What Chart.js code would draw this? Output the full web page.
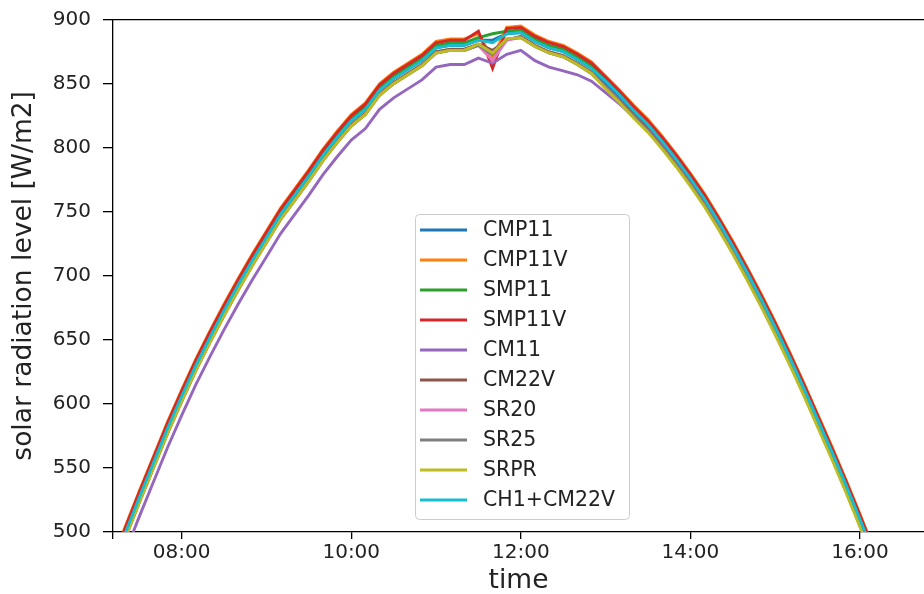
<!DOCTYPE html>
<html>
<head>
<meta charset="utf-8">
<script src="https://cdn.jsdelivr.net/npm/chart.js@4.4.1/dist/chart.umd.min.js"></script>
<style>
  html, body { margin: 0; padding: 0; background: #fff; }
  #wrap { width: 924px; height: 594px; }
</style>
</head>
<body>
<div id="wrap"><canvas id="radChart" width="924" height="594"></canvas></div>
<script>
// measurement times, 10 minute steps
const timeLabels = [
  '07:10','07:20','07:30','07:40','07:50',
  '08:00','08:10','08:20','08:30','08:40','08:50',
  '09:00','09:10','09:20','09:30','09:40','09:50',
  '10:00','10:10','10:20','10:30','10:40','10:50',
  '11:00','11:10','11:20','11:30','11:40','11:50',
  '12:00','12:10','12:20','12:30','12:40','12:50',
  '13:00','13:10','13:20','13:30','13:40','13:50',
  '14:00','14:10','14:20','14:30','14:40','14:50',
  '15:00','15:10','15:20','15:30','15:40','15:50',
  '16:00','16:10','16:20'
];
const tickTimes = ['08:00', '10:00', '12:00', '14:00', '16:00'];
const yTicks = [500, 550, 600, 650, 700, 750, 800, 850, 900];

// solar radiation per sensor [W/m2]
const cmp11 = [471,499,527,554,581, 606,630,652,673,693,712, 730,748,763,778,794,808, 821,830,845,854,861,868,
  878,880,880,884,884,889, 890,883,878,875,869,862, 851,840,828,817,804,790, 775,759,741,722,702,681,
  659,636,612,587,562,536, 509,481,452];
const cmp11v = [476,504,532,559,586, 611,635,657,678,698,717, 735,753,768,783,799,813, 826,835,850,859,866,873,
  883,885,885,889,870,894, 895,888,883,880,874,867, 856,845,833,822,809,795, 780,764,746,727,707,686,
  664,641,617,592,567,541, 514,486,457];
const smp11 = [473,501,529,556,583, 608,632,654,675,695,714, 732,750,765,780,796,810, 823,832,847,856,863,870,
  880,882,882,886,889,891, 892,885,880,877,871,864, 853,842,830,819,806,792, 777,761,743,724,704,683,
  661,638,614,589,564,538, 511,483,454];
const smp11v = [475,503,531,558,585, 610,634,656,677,697,716, 734,752,767,782,798,812, 825,834,849,858,865,872,
  882,884,884,891,862,893, 894,887,882,879,873,866, 855,844,832,821,808,794, 779,763,745,726,706,685,
  663,640,616,591,566,540, 513,485,456];
const cm11 = [456,484,512,539,566, 591,615,637,658,678,697, 715,733,748,763,779,793, 806,815,830,839,846,853,
  863,865,865,870,866,873, 876,868,863,860,857,852, 843,834,824,815,803,790, 775,759,741,722,702,681,
  659,636,612,587,562,536, 509,481,452];
const cm22v = [468,496,524,551,578, 603,627,649,670,690,709, 727,745,760,775,791,805, 818,827,842,851,858,865,
  875,877,877,881,876,884, 887,880,875,872,866,859, 848,837,825,814,801,787, 772,756,738,719,699,678,
  656,633,609,584,559,533, 506,478,449];
const sr20 = [467,495,523,550,577, 602,626,648,669,689,708, 726,744,759,774,790,804, 817,826,841,850,857,864,
  874,876,876,880,868,884, 886,879,874,871,865,858, 847,836,824,813,800,786, 771,755,737,718,698,677,
  655,632,608,583,558,532, 505,477,448];
const sr25 = [467,495,523,550,577, 602,626,648,669,689,708, 726,744,759,774,790,804, 817,826,841,850,857,864,
  874,876,876,880,873,885, 886,879,874,871,865,858, 847,836,824,813,800,786, 771,755,737,718,698,677,
  655,632,608,583,558,532, 505,477,448];
const srpr = [467,495,523,550,577, 602,626,648,669,689,708, 726,744,759,774,790,804, 817,826,841,850,857,864,
  874,876,876,881,874,885, 886,879,874,871,865,858, 846,835,823,812,799,785, 770,754,736,717,697,676,
  654,631,607,582,557,531, 504,476,447];
const ch1cm22v = [471,499,527,554,581, 606,630,652,673,693,712, 730,748,763,778,794,808, 821,830,845,854,861,868,
  878,880,880,884,882,889, 890,883,878,875,869,862, 852,841,829,818,805,791, 776,760,742,723,703,682,
  660,637,613,588,563,537, 510,482,453];

const seriesNames = ['CMP11', 'CMP11V', 'SMP11', 'SMP11V', 'CM11', 'CM22V', 'SR20', 'SR25', 'SRPR', 'CH1+CM22V'];
const seriesValues = [cmp11, cmp11v, smp11, smp11v, cm11, cm22v, sr20, sr25, srpr, ch1cm22v];
const seriesColors = ['#1f77b4', '#ff7f0e', '#2ca02c', '#d62728', '#9467bd',
  '#8c564b', '#e377c2', '#7f7f7f', '#bcbd22', '#17becf'];

const FONT = '"DejaVu Sans", sans-serif';
const X_MIN = 7.19, X_MAX = 16.755;

function toHours(t) {
  const [h, m] = t.split(':').map(Number);
  return h + m / 60;
}

const datasets = seriesValues.map((vals, i) => ({
  label: seriesNames[i],
  data: vals.map((v, j) => ({ x: toHours(timeLabels[j]), y: v })),
  borderColor: seriesColors[i],
  backgroundColor: seriesColors[i],
  borderWidth: 2.9,
  pointRadius: 0,
  tension: 0,
  clip: 0,
  // matplotlib draws later lines on top
  order: seriesValues.length - i
}));

// top spine + legend inside the plot
const frameAndLegend = {
  id: 'frameAndLegend',
  afterDraw(chart) {
    const ctx = chart.ctx;
    const { top, left, right } = chart.chartArea;
    ctx.save();
    ctx.strokeStyle = '#000';
    ctx.lineWidth = 1.3;
    ctx.beginPath();
    ctx.moveTo(left, top);
    ctx.lineTo(right, top);
    ctx.stroke();

    ctx.beginPath();
    if (ctx.roundRect) ctx.roundRect(415.5, 214.5, 214, 305, 4);
    else ctx.rect(415.5, 214.5, 214, 305);
    ctx.fillStyle = 'rgba(255,255,255,0.8)';
    ctx.fill();
    ctx.strokeStyle = '#cccccc';
    ctx.lineWidth = 1;
    ctx.stroke();

    ctx.font = '20.5px ' + FONT;
    ctx.textBaseline = 'middle';
    ctx.textAlign = 'left';
    chart.data.datasets.forEach((ds, i) => {
      const y = 230 + i * 30;
      ctx.strokeStyle = ds.borderColor;
      ctx.lineWidth = 3;
      ctx.beginPath();
      ctx.moveTo(420, y);
      ctx.lineTo(467, y);
      ctx.stroke();
      ctx.fillStyle = '#222';
      ctx.fillText(ds.label, 483, y + 0.5);
    });
    ctx.restore();
  }
};

new Chart(document.getElementById('radChart'), {
  type: 'line',
  data: { datasets },
  options: {
    responsive: false,
    animation: false,
    events: [],
    layout: { padding: { left: 0, right: 0, top: 19.7, bottom: 0 } },
    plugins: { legend: { display: false }, tooltip: { enabled: false } },
    scales: {
      x: {
        type: 'linear',
        min: X_MIN,
        max: X_MAX,
        afterBuildTicks: (scale) => {
          scale.ticks = [{ value: X_MIN }].concat(tickTimes.map(t => ({ value: toHours(t) })));
        },
        afterFit: (scale) => { scale.height = 62; },
        ticks: {
          color: '#222',
          font: { family: FONT, size: 20 },
          padding: 2,
          maxRotation: 0,
          autoSkip: false,
          callback: (v) => {
            const idx = tickTimes.findIndex(t => Math.abs(toHours(t) - v) < 1e-6);
            return idx >= 0 ? tickTimes[idx] : '';
          }
        },
        grid: { drawOnChartArea: false, drawTicks: true, tickLength: 7, color: '#000', lineWidth: 1.3 },
        border: { display: true, color: '#000', width: 1.3 },
        title: {
          display: true, text: 'time', color: '#222',
          font: { family: FONT, size: 26.5, lineHeight: 1 },
          padding: { top: 0, bottom: 0 }
        }
      },
      y: {
        min: 500,
        max: 900,
        afterBuildTicks: (scale) => { scale.ticks = yTicks.map(v => ({ value: v })); },
        afterFit: (scale) => {
          scale.width = 113;
          scale.paddingTop = 0;
          scale.paddingBottom = 0;
        },
        ticks: { color: '#222', font: { family: FONT, size: 20 }, padding: 12 },
        grid: { drawOnChartArea: false, drawTicks: true, tickLength: 10, color: '#000', lineWidth: 1.3 },
        border: { display: true, color: '#000', width: 1.3 },
        title: {
          display: true, text: 'solar radiation level [W/m2]', color: '#222',
          font: { family: FONT, size: 26.5, lineHeight: 1 },
          padding: { top: 11, bottom: 0 }
        }
      }
    }
  },
  plugins: [frameAndLegend]
});
</script>
</body>
</html>
